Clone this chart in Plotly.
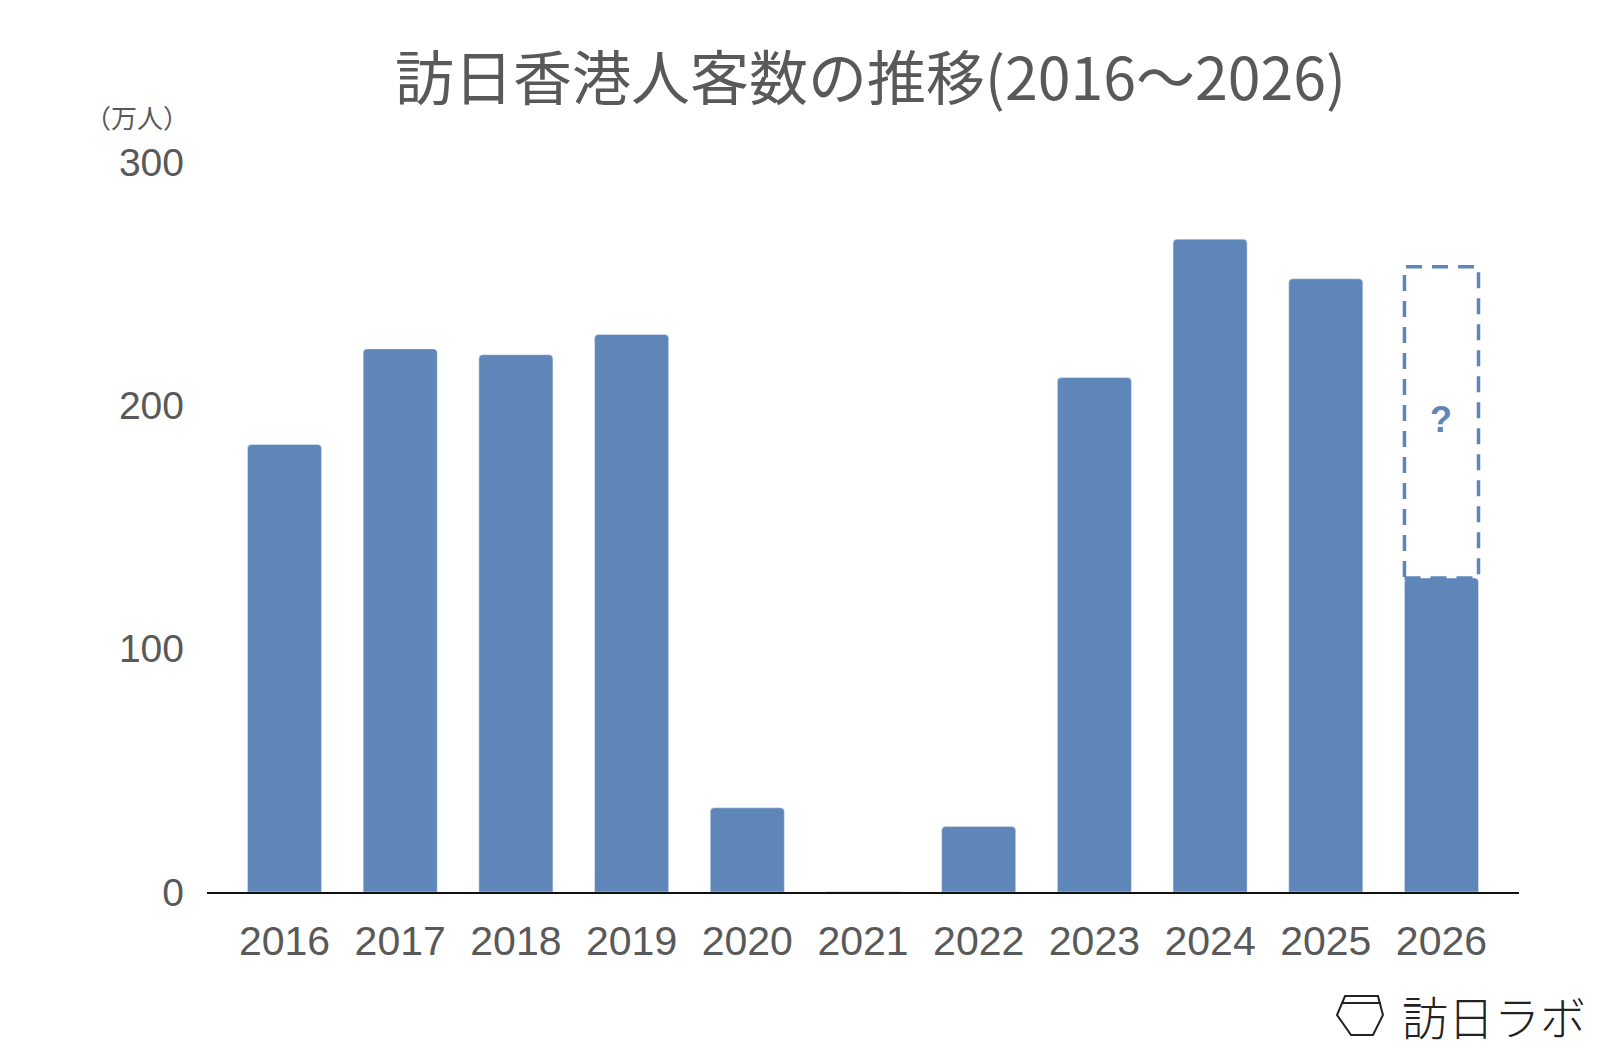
import plotly.graph_objects as go

# visitors from Hong Kong, unit: 10k people
years = ["2016", "2017", "2018", "2019", "2020", "2021", "2022", "2023", "2024", "2025", "2026"]
visitors = [183.9, 223.2, 220.8, 229.1, 34.6, 0.1, 26.9, 211.4, 268.3, 252.0, 129.0]
forecast_2026 = 257.0
y_ticks = [0, 100, 200, 300]

bar_color = "#5e86b8"
text_gray = "#595959"
bar_w = 0.64

W, H = 1600, 1048
ML, MR, MT, MB = 199, 89, 154, 164
PW, PH = W - ML - MR, H - MT - MB


def px(x, y):
    # page pixels -> paper coords (used for the logo only)
    return (x - ML) / PW, (H - MB - y) / PH


fig = go.Figure(go.Bar(
    x=years,
    y=visitors,
    width=bar_w,
    marker=dict(color=bar_color),
    hoverinfo="x+y",
))

# dashed box for the rest of 2026 (unknown)
last = len(years) - 1
fig.add_shape(
    type="rect", xref="x", yref="y",
    x0=last - bar_w / 2, x1=last + bar_w / 2,
    y0=visitors[last], y1=forecast_2026,
    line=dict(color=bar_color, width=3.5, dash="16px,10px"),
    fillcolor="rgba(0,0,0,0)",
)
fig.add_annotation(
    x=last, y=(visitors[last] + forecast_2026) / 2 + 1,
    xref="x", yref="y", xanchor="center", yanchor="middle",
    text="<b>?</b>", showarrow=False,
    font=dict(family="Liberation Sans, Arial", size=36, color=bar_color),
)

# title
tx, ty = px(862, 66)
fig.add_annotation(
    xref="paper", yref="paper", x=tx, y=ty, xanchor="center", yanchor="middle",
    text="訪日香港人客数の推移(2016～2026)", showarrow=False,
    font=dict(family="Noto Sans CJK JP", size=59, color=text_gray),
)
# unit
ux, uy = px(129, 109)
fig.add_annotation(
    xref="paper", yref="paper", x=ux, y=uy, xanchor="center", yanchor="middle",
    text="（万人）", showarrow=False,
    font=dict(family="Noto Sans CJK JP", size=26, color=text_gray),
)

# logo: hexagon icon + name
hexagon = [(1329, 1007), (1337, 988), (1370, 988), (1375, 1007), (1365, 1027), (1343, 1027)]
pts = [px(a, b) for a, b in hexagon]
path = "M " + " L ".join(f"{a:.4f} {b:.4f}" for a, b in pts) + " Z"
fig.add_shape(type="path", xref="paper", yref="paper", path=path,
              line=dict(color="#222222", width=2))
l0, l1 = px(1334, 995), px(1373, 995)
fig.add_shape(type="line", xref="paper", yref="paper",
              x0=l0[0], x1=l1[0], y0=l0[1], y1=l1[1],
              line=dict(color="#222222", width=2))
lx, ly = px(1486, 1007)
fig.add_annotation(
    xref="paper", yref="paper", x=lx, y=ly, xanchor="center", yanchor="middle",
    text="訪日ラボ", showarrow=False,
    font=dict(family="Noto Sans CJK JP", size=46, color="#222222", weight=300),
)

fig.update_layout(
    width=W, height=H,
    margin=dict(l=ML, r=MR, t=MT, b=MB),
    paper_bgcolor="white", plot_bgcolor="white",
    barcornerradius=4,
    showlegend=False,
    xaxis=dict(
        range=[-0.67, 10.67],
        showline=True, linecolor="#111111", linewidth=2,
        showgrid=False, ticks="",
        layer="below traces",
        tickfont=dict(family="Liberation Sans, Arial", size=41, color=text_gray),
        ticklabelstandoff=12,
    ),
    yaxis=dict(
        range=[0, 300],
        tickvals=y_ticks,
        showgrid=False, zeroline=False, showline=False, ticks="",
        tickfont=dict(family="Liberation Sans, Arial", size=39, color=text_gray),
        ticklabelstandoff=22,
    ),
)

fig.write_html("out.html")
